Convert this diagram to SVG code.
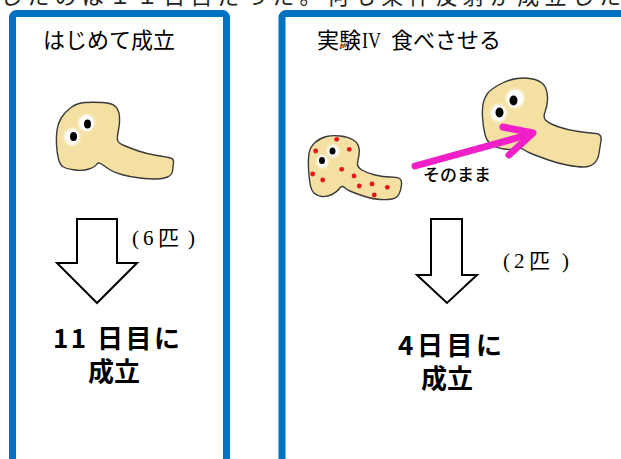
<svg xmlns="http://www.w3.org/2000/svg" width="621" height="459" viewBox="0 0 621 459">
  <defs>
    <style>
      .panel { fill: #ffffff; stroke: #0070c0; stroke-width: 7; }
      .title { font-family: "Noto Sans CJK JP", "Liberation Sans", sans-serif; font-size: 22px; fill: #000; }
      .roman { font-family: "Liberation Serif", serif; font-size: 24px; fill: #000; }
      .worm { fill: #f4e0a2; stroke: #3a3a3a; stroke-width: 1.4; stroke-linejoin: round; }
      .white { fill: #ffffff; filter: url(#soft); }
      .pupil { fill: #000000; }
      .dot { fill: #e8141c; }
      .down { fill: #ffffff; stroke: #000; stroke-width: 2; stroke-linejoin: miter; }
      .count { font-family: "Liberation Serif", "Noto Sans CJK JP", serif; font-size: 21px; fill: #000; }
      .result { font-family: "Noto Sans CJK JP", "Liberation Sans", sans-serif; font-size: 26px; font-weight: 700; fill: #000; }
      .feed { fill: none; stroke: #f020c8; stroke-width: 7; stroke-linecap: round; stroke-linejoin: round; }
    </style>
    <filter id="soft" x="-30%" y="-30%" width="160%" height="160%">
      <feGaussianBlur stdDeviation="0.8"/>
    </filter>
  </defs>

  <rect width="621" height="459" fill="#ffffff"/>

  <!-- running text line above the panels, clipped by the top edge -->
  <text x="0" y="4" font-family="Noto Sans CJK JP, sans-serif" font-size="22" fill="#222" textLength="621" lengthAdjust="spacing">したのは１１日目だった。何も条件反射が成立した</text>

  <!-- left panel -->
  <g id="panel-first">
    <rect class="panel" x="12.5" y="13.5" width="214" height="470" rx="4"/>
    <text class="title" x="43" y="47.5">はじめて成立</text>
  </g>

  <!-- right panel -->
  <g id="panel-feed">
    <rect class="panel" x="282" y="13.5" width="360" height="470" rx="4"/>
    <text class="title" x="317" y="47.5" font-size="23">実験</text>
    <text class="roman" x="362" y="48" textLength="19" lengthAdjust="spacingAndGlyphs">IV</text>
    <text class="title" x="391" y="47.5" font-size="23.5">食べさせる</text>
  </g>

  <!-- planarian, left panel -->
  <g id="worm-left">
    <path class="worm" d="M71,107.5 Q77,103 85,102.5 Q93,102 102.5,102.5 Q112,103 115.5,106.5 Q119,110 119.5,116.5 Q120,123 118.5,130 Q117,137 117.5,140 Q118,143 124,145.5 Q130,148 138.5,151 Q147,154 157,155.5 Q167,157 170.5,158 Q174,159 173.5,163 Q173,167 172.5,171 Q172,175 167.5,177 Q163,179 156.5,179 Q150,179 140,178 Q130,177 121.5,174.5 Q113,172 108,168.5 Q103,165 100.5,163.5 Q98,162 96.5,164.5 Q95,167 89,169 Q83,171 75,170 Q67,169 63.5,167 Q60,165 58.5,159 Q57,153 56.5,145 Q56,137 57,130 Q58,123 61.5,117.5 Q65,112 71,107.5 Z"/>
    <ellipse class="white" cx="86.5" cy="123" rx="8" ry="8.5"/>
    <ellipse class="pupil" cx="87.5" cy="124" rx="3.5" ry="4.5"/>
    <ellipse class="white" cx="72" cy="137" rx="8" ry="8.5"/>
    <ellipse class="pupil" cx="73.5" cy="136.5" rx="3.5" ry="4.5"/>
  </g>

  <!-- planarian with red food, right panel -->
  <g id="worm-fed">
    <path class="worm" d="M315,142.5 Q320,138 326.5,136.5 Q333,135 340.5,136 Q348,137 352.5,139.5 Q357,142 358.5,146 Q360,150 359,155 Q358,160 357.5,163.5 Q357,167 362,170 Q367,173 375,175 Q383,177 390,177 Q397,177 399.5,178.5 Q402,180 401.5,185 Q401,190 399,194 Q397,198 392,199 Q387,200 380,199.5 Q373,199 366.5,197 Q360,195 353.5,192.5 Q347,190 344.5,187.5 Q342,185 339.5,188.5 Q337,192 332,194.5 Q327,197 322,196.5 Q317,196 314,193 Q311,190 310,183.5 Q309,177 308.5,168.5 Q308,160 309,153.5 Q310,147 315,142.5 Z"/>
    <ellipse class="white" cx="333" cy="151" rx="6" ry="6.5"/>
    <ellipse class="pupil" cx="332.5" cy="151" rx="3" ry="3.6"/>
    <ellipse class="white" cx="322.5" cy="161.5" rx="6" ry="6.5"/>
    <ellipse class="pupil" cx="322" cy="160.5" rx="3" ry="3.6"/>
    <circle class="dot" cx="336.7" cy="139.3" r="2.4"/>
    <circle class="dot" cx="349.3" cy="149.3" r="2.4"/>
    <circle class="dot" cx="315.7" cy="151" r="2.4"/>
    <circle class="dot" cx="312.7" cy="174" r="2.4"/>
    <circle class="dot" cx="322.7" cy="180" r="2.4"/>
    <circle class="dot" cx="341.7" cy="169.3" r="2.4"/>
    <circle class="dot" cx="354" cy="176" r="2.4"/>
    <circle class="dot" cx="359.3" cy="186" r="2.4"/>
    <circle class="dot" cx="372" cy="184" r="2.4"/>
    <circle class="dot" cx="387.3" cy="187.3" r="2.4"/>
    <circle class="dot" cx="374.3" cy="195" r="2.4"/>
  </g>

  <!-- planarian that eats it, right panel -->
  <g id="worm-eater">
    <path class="worm" d="M498.5,85 Q507,80 517,78.5 Q527,77 535,79.5 Q543,82 545.5,87.5 Q548,93 547.5,100 Q547,107 545,112 Q543,117 545.5,120 Q548,123 557.5,126.5 Q567,130 578.5,131.5 Q590,133 596,133.5 Q602,134 601,140.5 Q600,147 599,153.5 Q598,160 594,163.5 Q590,167 583.5,167 Q577,167 567,165 Q557,163 548.5,160 Q540,157 533.5,154.5 Q527,152 523.5,149.5 Q520,147 515,148.5 Q510,150 503.5,149 Q497,148 492,145 Q487,142 485,134.5 Q483,127 482.5,117 Q482,107 483.5,102 Q485,97 487.5,93.5 Q490,90 498.5,85 Z"/>
    <ellipse class="white" cx="515" cy="98.5" rx="9" ry="9.5"/>
    <ellipse class="pupil" cx="513.5" cy="100.5" rx="4" ry="5"/>
    <ellipse class="white" cx="498.5" cy="113" rx="8" ry="9"/>
    <ellipse class="pupil" cx="499.5" cy="112.5" rx="4" ry="5"/>
  </g>

  <!-- connectors and annotations -->
  <g id="connectors">
    <polygon class="down" points="77,219 117,219 117,263 137,263 97,303 57,263 77,263"/>
    <polygon class="down" points="431,219 462,219 462,275 477,275 447,303 417,275 431,275"/>
    <line class="feed" x1="415" y1="166" x2="531" y2="134"/>
    <polyline class="feed" points="503,127 533,133 509,155"/>
  </g>

  <g id="labels">
    <text x="423" y="181" font-family="Noto Sans CJK JP, sans-serif" font-size="17" font-weight="500" fill="#000">そのまま</text>
    <text class="count" x="132 143 158 188" y="245">(6匹)</text>
    <text class="count" x="503 514 529 562" y="268">(2匹)</text>
    <text class="result" x="53" y="348" textLength="127" lengthAdjust="spacing">11 日目に</text>
    <text class="result" x="88" y="381">成立</text>
    <text class="result" x="398" y="355" textLength="104" lengthAdjust="spacing">4日目に</text>
    <text class="result" x="421" y="388">成立</text>
  </g>
</svg>
